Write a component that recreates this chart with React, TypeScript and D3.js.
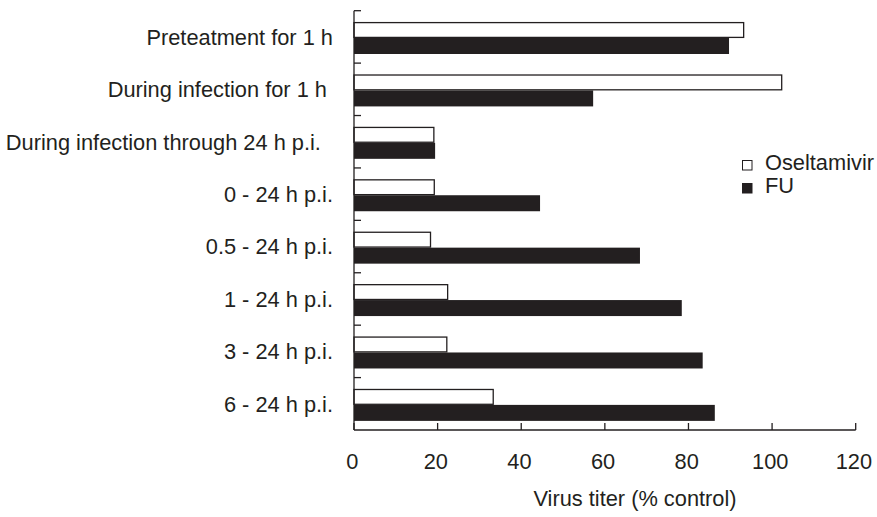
import React from "react";
import * as d3 from "d3";

const categories = [
  "Preteatment for 1 h",
  "During infection for 1 h ",
  "During infection through 24 h p.i.  ",
  "0 - 24 h p.i.",
  "0.5 - 24 h p.i.",
  "1 - 24 h p.i.",
  "3 - 24 h p.i.",
  "6 - 24 h p.i.",
];
const seriesNames = ["Oseltamivir", "FU"];
const oseltamivir = [93.2, 102.3, 19.1, 19.2, 18.3, 22.4, 22.2, 33.3];
const fu = [89.7, 57.2, 19.4, 44.5, 68.4, 78.4, 83.4, 86.3];
const xTicks = [0, 20, 40, 60, 80, 100, 120];

const ink = "#231f20";
const font = "'Liberation Sans', Arial, Helvetica, sans-serif";
const fs = 21.8;

const App: React.FC = () => {
  const width = 877;
  const height = 517;

  const x = d3.scaleLinear().domain([0, 120]).range([354, 855.7]);
  const y = d3.scaleBand<string>().domain(categories).range([10.7, 430]).padding(0);
  const sub = d3.scaleBand<string>().domain(seriesNames).range([11.3, 43.3]).padding(0);
  const values = [oseltamivir, fu];

  return (
    <svg
      width={width}
      height={height}
      style={{ position: "absolute", left: 0, top: 0, background: "#fff" }}
      fontFamily={font}
    >
      {/* bars */}
      {categories.map((c, i) =>
        seriesNames.map((s, j) => {
          const v = values[j][i];
          const y0 = (y(c) ?? 0) + (sub(s) ?? 0);
          return j === 0 ? (
            <rect
              key={c + s}
              x={x(0)}
              y={y0 + 0.6}
              width={x(v) - x(0)}
              height={sub.bandwidth() - 1.2}
              fill="#fff"
              stroke={ink}
              strokeWidth={1.3}
            />
          ) : (
            <rect
              key={c + s}
              x={x(0)}
              y={y0}
              width={x(v) - x(0)}
              height={sub.bandwidth()}
              fill={ink}
            />
          );
        })
      )}

      {/* y axis */}
      <line x1={x(0)} x2={x(0)} y1={y.range()[0]} y2={430} stroke={ink} strokeWidth={1.3} />
      {categories.map((c) => (
        <line
          key={"yt" + c}
          x1={x(0)}
          x2={x(0) + 7}
          y1={y(c) ?? 0}
          y2={y(c) ?? 0}
          stroke={ink}
          strokeWidth={1.3}
        />
      ))}
      {categories.map((c) => (
        <text
          key={"yl" + c}
          x={333}
          y={(y(c) ?? 0) + y.bandwidth() / 2 + fs * 0.36}
          textAnchor="end"
          fontSize={fs}
          fill={ink}
          style={{ whiteSpace: "pre" }}
        >
          {c}
        </text>
      ))}

      {/* x axis */}
      <line x1={x(0)} x2={x(120)} y1={430} y2={430} stroke={ink} strokeWidth={1.3} />
      {xTicks.map((t) => (
        <g key={"xt" + t}>
          <line x1={x(t)} x2={x(t)} y1={430} y2={423} stroke={ink} strokeWidth={1.3} />
          <text x={x(t) - 1.8} y={469} textAnchor="middle" fontSize={fs} fill={ink}>
            {t}
          </text>
        </g>
      ))}
      <text x={635} y={506} textAnchor="middle" fontSize={fs} fill={ink}>
        Virus titer (% control)
      </text>

      {/* legend */}
      {seriesNames.map((s, j) => (
        <g key={"lg" + s} transform={`translate(742, ${160 + j * 23})`}>
          <rect
            x={0.5}
            y={0.5}
            width={9.5}
            height={9.5}
            fill={j === 0 ? "#fff" : ink}
            stroke={ink}
            strokeWidth={1}
          />
          <text x={23} y={10} fontSize={fs} fill={ink}>
            {s}
          </text>
        </g>
      ))}
    </svg>
  );
};

export default App;
